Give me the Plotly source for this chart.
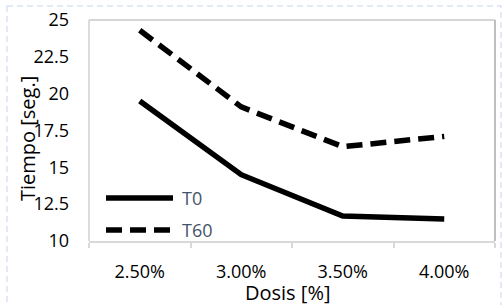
import plotly.graph_objects as go

categories = ["2.50%", "3.00%", "3.50%", "4.00%"]
t0 = [19.5, 14.5, 11.7, 11.5]
t60 = [24.3, 19.1, 16.4, 17.1]
y_ticks = [10, 12.5, 15, 17.5, 20, 22.5, 25]

FONT = "Open Sans"
fig = go.Figure()
fig.add_trace(go.Scatter(x=categories, y=t0, mode="lines", name="T0",
                         line=dict(color="black", width=5.5)))
fig.add_trace(go.Scatter(x=categories, y=t60, mode="lines", name="T60",
                         line=dict(color="black", width=5.5, dash="16px,8px")))

W, H = 502, 305
L, R, T, B = 89, 7, 20, 64
pw, ph = W - L - R, H - T - B

def px(x):
    return (x - L) / pw

def py(y):
    return (H - B - y) / ph

shapes = [
    # outer dashed chart border
    dict(type="rect", xref="paper", yref="paper", x0=px(7), x1=px(501), y0=py(6), y1=py(310),
         line=dict(color="#dae3f3", width=1.5, dash="6px,4px"), layer="below"),
    # plot area border
    dict(type="line", xref="paper", yref="paper", x0=0, x1=1, y0=1, y1=1,
         line=dict(color="#c8c8c8", width=1.5)),
    dict(type="line", xref="paper", yref="paper", x0=0, x1=0, y0=0, y1=1,
         line=dict(color="#d0d0d0", width=1.5)),
    dict(type="line", xref="paper", yref="paper", x0=1, x1=1, y0=0, y1=1,
         line=dict(color="#bfbfbf", width=2)),
    # legend samples
    dict(type="line", xref="paper", yref="paper", x0=px(106), x1=px(173), y0=py(198), y1=py(198),
         line=dict(color="black", width=5.5)),
    dict(type="line", xref="paper", yref="paper", x0=px(106), x1=px(173), y0=py(230), y1=py(230),
         line=dict(color="black", width=5.5, dash="16px,8px")),
]

annotations = [
    dict(text="T0", xref="paper", yref="paper", x=px(180), y=py(198), xanchor="left", yanchor="middle",
         showarrow=False, font=dict(family=FONT, size=18, color="#44546a")),
    dict(text="T60", xref="paper", yref="paper", x=px(180), y=py(230), xanchor="left", yanchor="middle",
         showarrow=False, font=dict(family=FONT, size=18, color="#44546a")),
    dict(text="Tiempo [seg.]", xref="paper", yref="paper", x=px(27), y=py(139), xanchor="center",
         yanchor="middle", textangle=-90, showarrow=False, font=dict(family=FONT, size=20, color="black")),
    dict(text="Dosis [%]", xref="paper", yref="paper", x=px(287), y=py(292), xanchor="center",
         yanchor="middle", showarrow=False, font=dict(family=FONT, size=20, color="black")),
]

fig.update_layout(
    width=W, height=H,
    margin=dict(l=L, r=R, t=T, b=B, pad=0),
    paper_bgcolor="white", plot_bgcolor="white",
    showlegend=False,
    font=dict(family=FONT, size=18, color="black"),
    shapes=shapes, annotations=annotations,
    xaxis=dict(type="category", categoryorder="array", categoryarray=categories,
               range=[-0.5, 3.5], showgrid=False, zeroline=False,
               showline=True, linecolor="#d9d9d9", linewidth=2,
               ticks="outside", ticklen=5, tickcolor="#d9d9d9", tickwidth=1.5,
               tickson="boundaries", ticklabelstandoff=13,
               tickfont=dict(family=FONT, size=18, color="black")),
    yaxis=dict(range=[10, 25], tickvals=y_ticks, ticktext=[str(v) for v in y_ticks],
               showgrid=False, zeroline=False, showline=False, ticks="",
               ticklabelstandoff=19,
               tickfont=dict(family=FONT, size=18, color="black")),
)

fig.write_html("out.html", config={"displayModeBar": False},
               post_script="document.body.style.margin='0';document.body.style.overflow='hidden';")
